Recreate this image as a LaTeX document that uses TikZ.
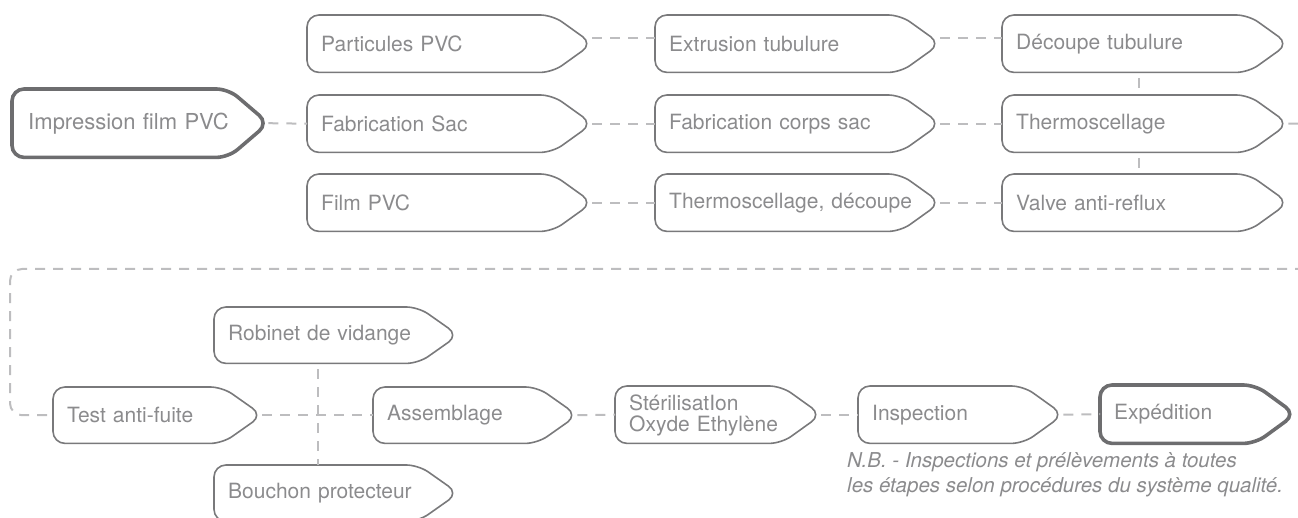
\documentclass[tikz,border=0pt]{standalone}
\usepackage{fontspec}
\setmainfont{TeX Gyre Heros}
\usetikzlibrary{calc}
\definecolor{txtgray}{HTML}{8B8B8D}
\definecolor{boxgray}{HTML}{79797B}
\definecolor{boldgray}{HTML}{6D6D6F}
\definecolor{dashgray}{HTML}{BDBDBF}
\tikzset{
  stepbox/.style={anchor=north west, inner xsep=14pt, inner ysep=0pt, align=left,
    text=txtgray, font=\fontsize{21}{21}\selectfont},
  outl/.style={draw=boxgray, line width=1.6pt, rounded corners=12pt},
  boldoutl/.style={draw=boldgray, line width=3.6pt, rounded corners=12pt},
  conn/.style={draw=dashgray, line width=2pt, dash pattern=on 10pt off 8pt},
}
\newcommand\chevron[2][outl]{%
  \draw[#1] (#2.north west) -- ([xshift=-40pt]#2.north east) -- (#2.east)
    -- ([xshift=-40pt]#2.south east) -- (#2.south west) -- cycle;}
\begin{document}
\begin{tikzpicture}[x=1pt,y=-1pt]
\useasboundingbox (0,0) rectangle (1298,518);
\clip (0,0) rectangle (1298,518);
% first part
\node[stepbox, inner xsep=16pt, text width=224pt, minimum height=68pt,
  font=\fontsize{22}{22}\selectfont] (ip) at (12,89) {Impression film PVC};
\node[stepbox, text width=257pt, minimum height=57pt] (pp) at (307,15) {Particules PVC};
\node[stepbox, text width=257pt, minimum height=57pt] (et) at (655,15) {Extrusion tubulure};
\node[stepbox, text width=258pt, minimum height=57pt] (dt) at (1002,15) {Découpe tubulure};
\node[stepbox, text width=257pt, minimum height=57pt] (fs) at (307,95) {Fabrication Sac};
\node[stepbox, text width=257pt, minimum height=57pt] (fc) at (655,95) {Fabrication corps sac};
\node[stepbox, text width=258pt, minimum height=57pt] (th) at (1002,95) {Thermoscellage};
\node[stepbox, text width=257pt, minimum height=57pt] (fp) at (307,174) {Film PVC};
\node[stepbox, text width=257pt, minimum height=57pt] (td) at (655,174) {Thermoscellage, découpe};
\node[stepbox, text width=258pt, minimum height=57pt] (va) at (1002,174) {Valve anti-reflux};
% second part
\node[stepbox, text width=181pt, minimum height=56pt] (tf) at (53,387) {Test anti-fuite};
\node[stepbox, text width=216pt, minimum height=56pt] (rb) at (214,307) {Robinet de vidange};
\node[stepbox, text width=216pt, minimum height=56pt] (bp) at (214,465) {Bouchon protecteur};
\node[stepbox, text width=176pt, minimum height=56pt] (as) at (373,387) {Assemblage};
\node[stepbox, text width=178pt, minimum height=57pt] (st) at (615,386) {\rule{0pt}{18pt}StérilisatIon\\Oxyde Ethylène};
\node[stepbox, text width=177pt, minimum height=57pt] (in) at (858,386) {Inspection};
\node[stepbox, text width=167pt, minimum height=58pt] (ex) at (1100,385) {Expédition};
\node[anchor=base west, align=left, inner sep=0pt, text=txtgray,
  font=\fontsize{20.5}{25}\selectfont\itshape] (nb) at (847,492)
  {N.B. - Inspections et prélèvements à toutes\\les étapes selon procédures du système qualité.};
% outlines
\chevron[boldoutl]{ip}
\foreach \n in {pp,et,dt,fs,fc,th,fp,td,va,tf,rb,bp,as,st,in}{\chevron{\n}}
\chevron[boldoutl]{ex}
% connectors
\draw[conn] (ip.east) -- (fs.west);
\draw[conn] ([yshift=6pt]pp.east) -- ([yshift=6pt]et.west);
\draw[conn] ([yshift=6pt]et.east) -- ([yshift=6pt]dt.west);
\draw[conn] (fs.east) -- (fc.west);
\draw[conn] (fc.east) -- (th.west);
\draw[conn] (fp.east) -- (td.west);
\draw[conn] (td.east) -- (va.west);
\draw[conn, shorten <=6pt] ([xshift=-6pt]dt.south) -- ([xshift=-6pt]th.north);
\draw[conn, shorten <=6pt] ([xshift=-6pt]th.south) -- ([xshift=-6pt]va.north);
\coordinate (lt) at (10,269);
\draw[conn, rounded corners=12pt] (th.east) -- ++(40,0) |- (lt) |- (tf.west);
\draw[conn] (tf.east) -- (as.west);
\coordinate (j) at ($(tf.east)!0.5!(as.west)$);
\draw[conn, shorten <=6pt] (rb.south -| j) -- (bp.north -| j);
\draw[conn] (as.east) -- (st.west);
\draw[conn] (st.east) -- (in.west);
\draw[conn] (in.east) -- (ex.west);
\end{tikzpicture}
\end{document}
